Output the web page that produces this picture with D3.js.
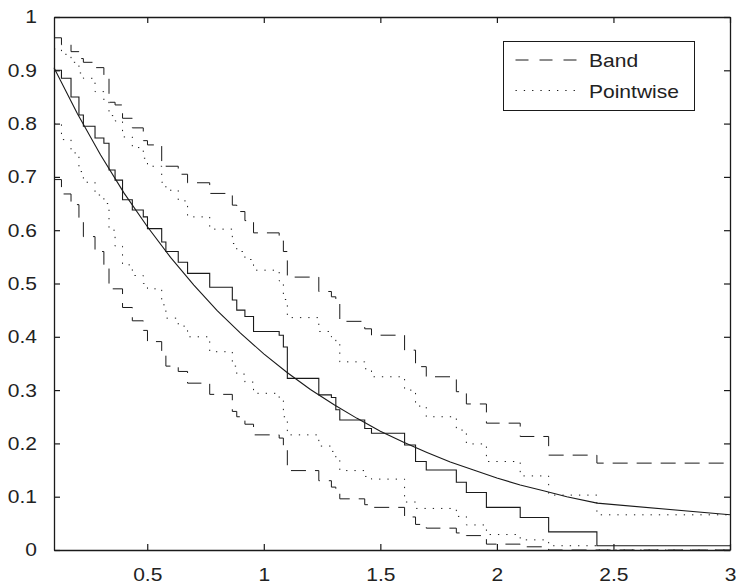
<!DOCTYPE html>
<html>
<head>
<meta charset="utf-8">
<script src="https://cdn.jsdelivr.net/npm/d3@7"></script>
<style>
  body { margin: 0; background: #fff; }
  text { font-family: "Liberation Sans", Arial, Helvetica, sans-serif; }
</style>
</head>
<body>
<div id="chart"></div>
<script>
// survival estimate (step), [time, value]
const kmSteps = [[0.1,0.900],[0.132,0.885],[0.173,0.850],[0.207,0.816],[0.226,0.795],[0.276,0.773],[0.314,0.763],[0.336,0.713],[0.362,0.694],[0.394,0.657],[0.436,0.638],[0.483,0.625],[0.501,0.603],[0.562,0.578],[0.58,0.560],[0.633,0.540],[0.673,0.519],[0.768,0.493],[0.865,0.469],[0.884,0.450],[0.919,0.438],[0.956,0.410],[1.066,0.403],[1.084,0.381],[1.101,0.322],[1.236,0.291],[1.29,0.286],[1.309,0.263],[1.326,0.244],[1.433,0.228],[1.462,0.219],[1.604,0.197],[1.651,0.166],[1.697,0.150],[1.826,0.127],[1.869,0.108],[1.955,0.080],[2.10,0.061],[2.222,0.034],[2.429,0.008]];

// simultaneous confidence band
const bandHi = [[0.1,0.961],[0.132,0.948],[0.173,0.935],[0.207,0.922],[0.226,0.915],[0.276,0.905],[0.314,0.885],[0.336,0.840],[0.362,0.835],[0.394,0.810],[0.436,0.792],[0.483,0.768],[0.501,0.760],[0.562,0.724],[0.58,0.720],[0.633,0.705],[0.673,0.689],[0.768,0.669],[0.865,0.647],[0.884,0.635],[0.919,0.618],[0.956,0.595],[1.066,0.580],[1.084,0.560],[1.101,0.512],[1.236,0.485],[1.29,0.475],[1.309,0.469],[1.326,0.429],[1.433,0.415],[1.462,0.403],[1.604,0.375],[1.651,0.344],[1.697,0.325],[1.826,0.297],[1.869,0.274],[1.955,0.238],[2.10,0.213],[2.222,0.178],[2.429,0.163]];
const bandLo = [[0.1,0.695],[0.132,0.668],[0.173,0.648],[0.207,0.615],[0.226,0.588],[0.276,0.560],[0.314,0.530],[0.336,0.490],[0.394,0.455],[0.436,0.430],[0.483,0.412],[0.501,0.391],[0.562,0.365],[0.58,0.345],[0.633,0.335],[0.673,0.313],[0.768,0.292],[0.865,0.260],[0.884,0.250],[0.919,0.236],[0.956,0.216],[1.066,0.210],[1.084,0.190],[1.101,0.149],[1.236,0.130],[1.29,0.118],[1.309,0.110],[1.326,0.096],[1.433,0.085],[1.462,0.080],[1.604,0.062],[1.651,0.048],[1.697,0.041],[1.826,0.032],[1.869,0.027],[1.955,0.011],[2.10,0.006],[2.222,0.0]];

// pointwise confidence limits
const pwHi = [[0.1,0.940],[0.132,0.930],[0.173,0.915],[0.207,0.895],[0.226,0.885],[0.276,0.860],[0.314,0.840],[0.336,0.815],[0.362,0.805],[0.394,0.775],[0.436,0.755],[0.483,0.735],[0.501,0.720],[0.562,0.690],[0.58,0.675],[0.633,0.655],[0.673,0.625],[0.768,0.602],[0.865,0.575],[0.884,0.560],[0.919,0.545],[0.956,0.525],[1.066,0.505],[1.084,0.470],[1.101,0.436],[1.236,0.410],[1.29,0.400],[1.309,0.390],[1.326,0.353],[1.433,0.340],[1.462,0.325],[1.604,0.300],[1.651,0.270],[1.697,0.250],[1.826,0.225],[1.869,0.199],[1.955,0.166],[2.10,0.139],[2.222,0.103],[2.429,0.066]];
const pwLo = [[0.1,0.800],[0.132,0.770],[0.173,0.745],[0.207,0.710],[0.226,0.690],[0.276,0.666],[0.314,0.650],[0.336,0.600],[0.362,0.570],[0.394,0.535],[0.436,0.515],[0.483,0.500],[0.501,0.490],[0.562,0.460],[0.58,0.435],[0.633,0.420],[0.673,0.400],[0.768,0.372],[0.865,0.345],[0.884,0.330],[0.919,0.315],[0.956,0.294],[1.066,0.280],[1.084,0.250],[1.101,0.216],[1.236,0.195],[1.29,0.185],[1.309,0.170],[1.326,0.149],[1.433,0.138],[1.462,0.133],[1.604,0.090],[1.651,0.078],[1.826,0.063],[1.869,0.047],[1.955,0.029],[2.10,0.019],[2.222,0.008],[2.429,0.0]];

// fitted smooth curve
const fitX = [0.1,0.2,0.3,0.4,0.5,0.6,0.7,0.8,0.9,1.0,1.1,1.2,1.3,1.4,1.5,1.6,1.7,1.8,1.9,2.0,2.1,2.2,2.3,2.43,3.0];
const fitY = [0.905,0.819,0.741,0.670,0.607,0.549,0.497,0.449,0.407,0.368,0.333,0.301,0.273,0.247,0.223,0.202,0.183,0.165,0.150,0.135,0.122,0.111,0.100,0.088,0.066];

const xTicks = [0.5, 1, 1.5, 2, 2.5, 3];
const yTicks = [0, 0.1, 0.2, 0.3, 0.4, 0.5, 0.6, 0.7, 0.8, 0.9, 1];
const legendNames = ["Band", "Pointwise"];

const width = 736, height = 587;
const x = d3.scaleLinear().domain([0.1, 3]).range([54, 730]);
const y = d3.scaleLinear().domain([0, 1]).range([550, 17]);

const svg = d3.select("#chart").append("svg")
  .attr("width", width).attr("height", height);

const ink = "#1a1a1a";
const fontSize = 18.6;
const stretch = 1.13; // text in the picture is a bit wider than Liberation Sans

const stepLine = d3.line()
  .x(d => x(d[0])).y(d => y(d[1]))
  .curve(d3.curveStepAfter);

function withEnd(steps) {
  return steps.concat([[x.domain()[1], steps[steps.length - 1][1]]]);
}

const g = svg.append("g");

// bands
[bandHi, bandLo].forEach(s => {
  g.append("path").datum(withEnd(s))
    .attr("d", stepLine)
    .attr("fill", "none").attr("stroke", ink).attr("stroke-width", 1)
    .attr("stroke-dasharray", "15 9");
});
[pwHi, pwLo].forEach(s => {
  g.append("path").datum(withEnd(s))
    .attr("d", stepLine)
    .attr("fill", "none").attr("stroke", ink).attr("stroke-width", 1)
    .attr("stroke-dasharray", "1.3 7");
});

// estimate
g.append("path").datum(withEnd(kmSteps))
  .attr("d", stepLine)
  .attr("fill", "none").attr("stroke", ink).attr("stroke-width", 1.1);

// fitted curve
g.append("path").datum(fitX.map((v, i) => [v, fitY[i]]))
  .attr("d", d3.line().x(d => x(d[0])).y(d => y(d[1])))
  .attr("fill", "none").attr("stroke", ink).attr("stroke-width", 1.1);

// axes (box with inward ticks)
const fmt = d3.format("");
function styleAxis(sel) {
  sel.selectAll("path.domain").attr("stroke", ink).attr("stroke-width", 1.3);
  sel.selectAll(".tick line").attr("stroke", ink).attr("stroke-width", 1.2);
  sel.selectAll("text").attr("fill", "#222").attr("font-size", fontSize)
    .style("font-family", '"Liberation Sans", Arial, sans-serif');
}
svg.append("g").attr("transform", "translate(0,550)")
  .call(d3.axisBottom(x).tickValues(xTicks).tickFormat(fmt).tickSize(-6).tickSizeOuter(0).tickPadding(18))
  .call(styleAxis);
svg.append("g").attr("transform", "translate(0,17)")
  .call(d3.axisTop(x).tickValues(xTicks).tickFormat("").tickSize(-6).tickSizeOuter(0))
  .call(styleAxis);
svg.append("g").attr("transform", "translate(54,0)")
  .call(d3.axisLeft(y).tickValues(yTicks).tickFormat(fmt).tickSize(-6).tickSizeOuter(0).tickPadding(17))
  .call(styleAxis);
svg.append("g").attr("transform", "translate(730,0)")
  .call(d3.axisRight(y).tickValues(yTicks).tickFormat("").tickSize(-6).tickSizeOuter(0))
  .call(styleAxis);

// legend
const lg = svg.append("g").attr("transform", "translate(503.5,41.5)");
lg.append("rect").attr("width", 191).attr("height", 69)
  .attr("fill", "#fff").attr("stroke", ink).attr("stroke-width", 1);
const dashes = ["13 11", "1.3 7"];
legendNames.forEach((name, i) => {
  const yy = 18.5 + i * 30.5;
  lg.append("line").attr("x1", 12).attr("x2", 73).attr("y1", yy).attr("y2", yy)
    .attr("stroke", ink).attr("stroke-width", 1).attr("stroke-dasharray", dashes[i]);
  lg.append("text").attr("x", 85.5).attr("y", yy + 7).attr("font-size", fontSize)
    .attr("fill", "#222").text(name);
});

// widen all labels a little
svg.selectAll("text").each(function() {
  const w = this.getComputedTextLength();
  if (w > 0) {
    d3.select(this).attr("textLength", w * stretch).attr("lengthAdjust", "spacingAndGlyphs");
  }
});
</script>
</body>
</html>
